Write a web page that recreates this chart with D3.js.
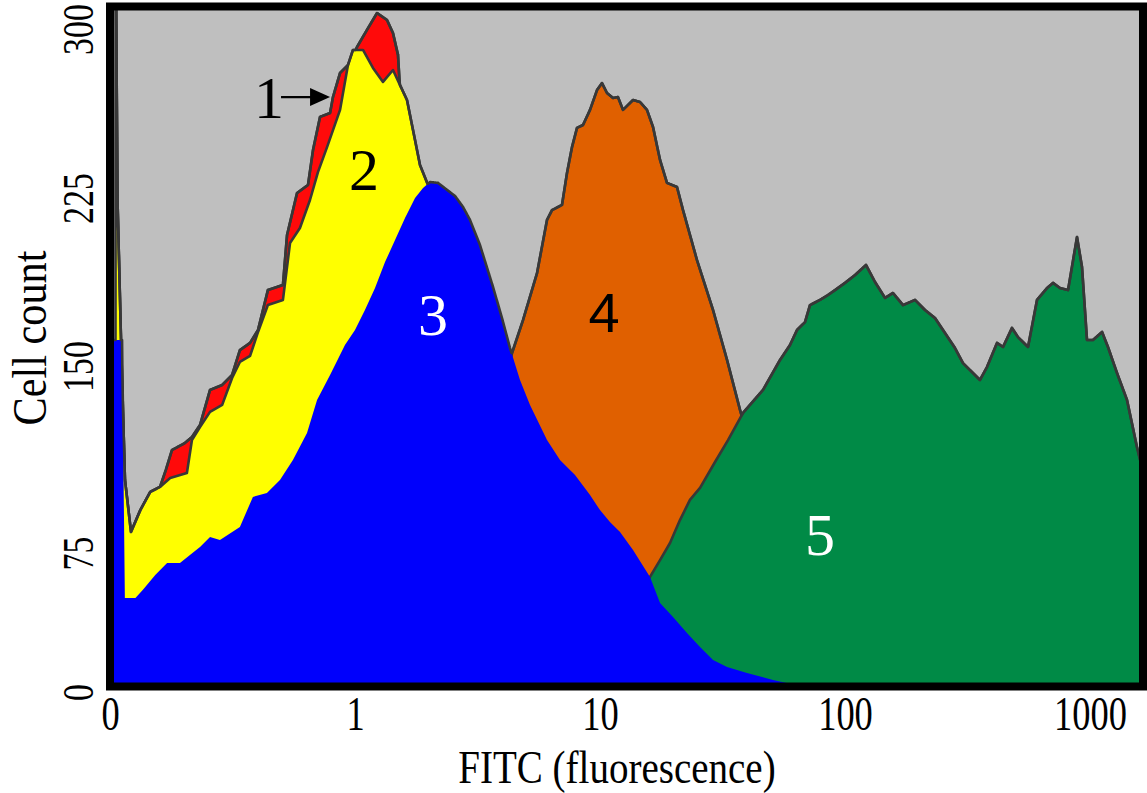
<!DOCTYPE html>
<html>
<head>
<meta charset="utf-8">
<script src="https://cdn.jsdelivr.net/npm/d3@7"></script>
<style>
  html, body { margin: 0; padding: 0; background: #ffffff; }
  svg { display: block; }
</style>
</head>
<body>
<svg id="chart" width="1147" height="793"></svg>
<script>
// Flow cytometry overlay: FITC fluorescence (log) vs cell count.
// Each series is a list of [FITC value, cell count] vertices along its outline.

const series1 = [ // red
  [0.1055, 340], [0.1073, 224.1], [0.1109, 161.6], [0.1151, 104.3], [0.1218, 83.4],
  [0.133, 92.2], [0.146, 99.5], [0.160, 101.5], [0.169, 108.3], [0.179, 116.3],
  [0.202, 119.1], [0.216, 121.5], [0.233, 126.3], [0.256, 140.4], [0.287, 142.4],
  [0.315, 146.4], [0.339, 157.1], [0.373, 160.3], [0.402, 166.1], [0.441, 183.9],
  [0.508, 186.2], [0.528, 208.5], [0.580, 227.2], [0.643, 230.8], [0.674, 246.3],
  [0.720, 261.0], [0.791, 262.7], [0.813, 269.8], [0.869, 280.5], [0.936, 284.0],
  [1.019, 292.0], [1.119, 299.6], [1.230, 307.1], [1.351, 304.0], [1.429, 298.2],
  [1.498, 288.5], [1.527, 272.9], [1.677, 250.7], [1.842, 233.0], [2.223, 201.8],
  [2.948, 157.1], [3.906, 116.3], [5.691, 60.4], [7.545, 17.3], [10.00, 0]
];

const series2 = [ // yellow
  [0.1055, 340], [0.1073, 224.1], [0.1109, 161.6], [0.1151, 104.3], [0.1218, 83.4],
  [0.133, 92.2], [0.146, 99.5], [0.160, 101.5], [0.176, 105.1], [0.206, 107.1],
  [0.216, 120.3], [0.233, 125.5], [0.256, 131.6], [0.287, 134.4], [0.315, 145.2],
  [0.339, 151.8], [0.373, 154.5], [0.402, 165.2], [0.441, 177.2], [0.508, 179.5],
  [0.543, 204.9], [0.596, 211.6], [0.655, 224.1], [0.706, 236.5], [0.769, 247.6],
  [0.869, 264.1], [0.936, 284.0], [0.981, 290.7], [1.078, 290.7], [1.184, 282.7],
  [1.301, 276.5], [1.429, 281.8], [1.527, 275.1], [1.630, 268.5], [1.725, 255.2],
  [1.842, 239.6], [1.986, 230.8], [2.223, 208.5], [2.683, 175.0], [3.237, 142.4],
  [3.906, 116.3], [4.715, 90.2], [5.691, 60.4], [6.866, 28.1], [8.287, 3.8], [10.00, 0]
];

const series3 = [ // blue
  [0.100, 161.6], [0.112, 161.6], [0.115, 50.7], [0.127, 50.7], [0.136, 55.0],
  [0.153, 63.1], [0.171, 69.6], [0.193, 69.6], [0.212, 73.9], [0.233, 77.4],
  [0.256, 81.4], [0.281, 80.2], [0.339, 85.4], [0.383, 97.5], [0.437, 99.1],
  [0.494, 104.3], [0.558, 112.3], [0.637, 123.1], [0.700, 136.4], [0.791, 146.4],
  [0.910, 159.4], [1.000, 166.1], [1.098, 175.0], [1.207, 184.8], [1.326, 196.4],
  [1.457, 206.2], [1.600, 216.1], [1.758, 225.0], [1.895, 229.4], [2.024, 232.1],
  [2.182, 231.7], [2.375, 228.6], [2.560, 225.9], [2.760, 221.0], [2.948, 215.2],
  [3.237, 204.0], [3.659, 185.3], [3.981, 171.4], [4.293, 158.0], [4.715, 144.4],
  [5.180, 134.4], [6.077, 120.3], [6.866, 112.3], [7.907, 106.3], [9.104, 98.3],
  [10.00, 92.2], [10.98, 87.4], [12.07, 83.4], [13.64, 76.2], [16.00, 62.1],
  [17.58, 48.0], [19.86, 40.5], [22.65, 31.8], [25.60, 24.3], [28.93, 17.3],
  [33.00, 13.5], [39.81, 10.3], [50.84, 6.5], [65.52, 3.2], [86.87, 0]
];

const series4 = [ // orange
  [2.442, 0], [3.237, 49.6], [3.906, 128.3], [4.374, 155.8], [4.850, 170.5],
  [5.534, 191.5], [6.077, 215.2], [6.369, 219.6], [6.996, 221.9], [7.333, 236.1],
  [7.687, 247.6], [8.056, 256.1], [8.523, 257.4], [9.104, 264.1], [9.723, 272.9],
  [10.19, 276.0], [10.68, 271.6], [11.30, 269.4], [11.84, 269.8], [12.41, 264.1],
  [13.64, 268.5], [14.57, 267.6], [15.55, 264.1], [16.46, 256.5], [17.58, 241.9],
  [18.77, 231.7], [20.62, 229.9], [21.82, 219.6], [24.88, 197.3], [28.93, 175.0],
  [33.00, 152.7], [37.28, 132.4], [44.99, 104.3], [59.64, 49.6], [79.07, 6.5], [95.41, 0]
];

const series5 = [ // green
  [10.00, 0], [13.26, 33.5], [16.00, 62.1], [17.58, 71.2], [19.31, 79.0],
  [21.20, 88.2], [23.29, 96.3], [25.60, 101.1], [29.48, 111.5], [33.31, 120.3],
  [38.35, 131.2], [46.27, 140.4], [54.29, 152.7], [59.64, 159.4], [63.70, 166.1],
  [68.66, 169.6], [71.95, 177.2], [79.07, 179.5], [85.23, 181.7], [91.04, 183.9],
  [100.0, 187.1], [109.9, 190.6], [121.8, 195.1], [132.6, 187.5], [145.7, 180.4],
  [157.0, 182.6], [172.5, 177.2], [193.1, 179.5], [212.1, 175.0], [233.0, 171.4],
  [256.0, 164.7], [281.2, 158.0], [303.1, 151.3], [355.6, 144.4], [379.8, 149.6],
  [417.3, 160.3], [441.5, 158.5], [480.4, 167.0], [508.3, 162.9], [558.5, 158.5],
  [607.7, 179.5], [667.6, 184.8], [706.3, 187.1], [754.4, 184.8], [813.5, 183.9],
  [885.1, 207.6], [927.7, 194.2], [972.3, 161.6], [1028, 161.6], [1120, 165.2],
  [1184, 158.5], [1289, 147.2], [1416, 136.4], [1555, 117.5], [1677, 104.3]
];

const xTicks = [0.1, 1, 10, 100, 1000];
const xTickLabels = ["0", "1", "10", "100", "1000"];
const yTicks = [0, 75, 150, 225, 300];

// population numbers: [label, FITC, count, colour, font]
const popLabels = [
  ["1", 0.446, 260.5, "#000000", "serif"],
  ["2", 1.088, 228.6, "#000000", "serif"],
  ["3", 2.081, 163.8, "#ffffff", "serif"],
  ["4", 10.38, 165.2, "#000000", "sans"],
  ["5", 79.07, 73.9, "#ffffff", "serif"]
];
// arrow from label 1 to the red population: [FITC start, FITC end, count]
const arrowPath = [0.499, 0.791, 269.8];

const serif = "'Liberation Serif', 'Times New Roman', Times, serif";
const sans = "'Liberation Sans', Arial, Helvetica, sans-serif";

const svg = d3.select("#chart");

// plot frame (inner area)
const inner = { left: 114, top: 10, right: 1139, bottom: 683 };

const x = d3.scaleLog().domain([0.1, 1000]).range([110, 1090]);
const y = d3.scaleLinear().domain(yTicks).range([692, 553, 366, 198, 29]);

svg.append("defs").append("clipPath").attr("id", "plotClip")
  .append("rect")
  .attr("x", inner.left).attr("y", inner.top)
  .attr("width", inner.right - inner.left).attr("height", inner.bottom - inner.top);

const plot = svg.append("g").attr("clip-path", "url(#plotClip)");

plot.append("rect")
  .attr("x", inner.left).attr("y", inner.top)
  .attr("width", inner.right - inner.left).attr("height", inner.bottom - inner.top)
  .attr("fill", "#bfbfbf");

const area = d3.area()
  .x(d => x(d[0]))
  .y0(y(0))
  .y1(d => y(d[1]));
const line = d3.line()
  .x(d => x(d[0]))
  .y(d => y(d[1]));

const outlineColor = "#383838";
const outlineWidth = 2.6;

// stacking order, back to front
const layers = [
  { data: series1, fill: "#ff0a0a", outline: true },
  { data: series2, fill: "#ffff00", outline: true },
  { data: series4, fill: "#e06000", outline: true },
  { data: series5, fill: "#008a46", outline: true },
  { data: series3, fill: "#0000fc", outline: false }
];

layers.forEach(l => {
  plot.append("path").datum(l.data)
    .attr("d", area)
    .attr("fill", l.fill);
  if (l.outline) {
    plot.append("path").datum(l.data)
      .attr("d", line)
      .attr("fill", "none")
      .attr("stroke", outlineColor)
      .attr("stroke-width", outlineWidth)
      .attr("stroke-linejoin", "round");
  }
});

// upper envelope of all populations, outlined against the background
const allSeries = [series1, series2, series3, series4, series5];
const pxSeries = allSeries.map(s => s.map(d => [x(d[0]), y(d[1])]));
const bis = d3.bisector(d => d[0]).right;
function pyAt(pts, px) {
  if (px < pts[0][0] || px > pts[pts.length - 1][0]) return y(0);
  const i = bis(pts, px);
  if (i <= 0) return pts[0][1];
  if (i >= pts.length) return pts[pts.length - 1][1];
  const a = pts[i - 1], b = pts[i];
  const t = (px - a[0]) / (b[0] - a[0] || 1);
  return a[1] + t * (b[1] - a[1]);
}
const samplePx = Array.from(new Set(
  d3.range(inner.left - 4, inner.right + 4, 0.5)
    .concat(pxSeries.flat().map(p => p[0]))
)).sort((a, b) => a - b);
const envelope = samplePx.map(px => [px, d3.min(pxSeries, pts => pyAt(pts, px))]);
plot.append("path")
  .attr("d", d3.line()(envelope))
  .attr("fill", "none")
  .attr("stroke", outlineColor)
  .attr("stroke-width", outlineWidth)
  .attr("stroke-linejoin", "round");

// population numbers
popLabels.forEach(([t, fx, cy, col, face]) => {
  svg.append("text")
    .attr("x", x(fx)).attr("y", y(cy))
    .attr("text-anchor", "middle")
    .attr("font-family", face === "sans" ? sans : serif)
    .attr("font-size", face === "sans" ? 56 : 60)
    .attr("fill", col)
    .text(t);
});

// arrow 1 -> red population
const ax0 = x(arrowPath[0]), ax1 = x(arrowPath[1]), ay = y(arrowPath[2]);
svg.append("line")
  .attr("x1", ax0).attr("y1", ay).attr("x2", ax1 - 16).attr("y2", ay)
  .attr("stroke", "#000").attr("stroke-width", 2.2);
svg.append("path")
  .attr("d", `M${ax1},${ay} L${ax1 - 20},${ay - 9} L${ax1 - 20},${ay + 9} Z`)
  .attr("fill", "#000");

// frame
svg.append("rect")
  .attr("x", 110).attr("y", 6.5)
  .attr("width", 1033).attr("height", 680)
  .attr("fill", "none")
  .attr("stroke", "#000")
  .attr("stroke-width", 8);

// x axis
const xAxis = svg.append("g")
  .attr("transform", "translate(0,694)")
  .call(d3.axisBottom(x).tickValues(xTicks)
    .tickFormat((d, i) => xTickLabels[i]).tickSize(0).tickPadding(0));
xAxis.select(".domain").remove();
xAxis.selectAll("text")
  .attr("y", 0).attr("dy", null)
  .attr("transform", "translate(0,36) scale(0.76,1)")
  .attr("font-family", serif)
  .attr("font-size", 48)
  .attr("fill", "#000");

// y axis
const yAxis = svg.append("g")
  .attr("transform", "translate(93,0)")
  .call(d3.axisLeft(y).tickValues(yTicks).tickSize(0).tickPadding(0));
yAxis.select(".domain").remove();
yAxis.selectAll("text")
  .attr("x", null).attr("dy", null)
  .attr("text-anchor", "middle")
  .attr("transform", "rotate(-90) scale(0.77,1)")
  .attr("font-family", serif)
  .attr("font-size", 44)
  .attr("fill", "#000");

// axis titles
svg.append("text")
  .attr("transform", "translate(617,783) scale(0.83,1)")
  .attr("text-anchor", "middle")
  .attr("font-family", serif)
  .attr("font-size", 47)
  .attr("fill", "#000")
  .text("FITC (fluorescence)");

svg.append("text")
  .attr("transform", "translate(46,338) rotate(-90) scale(0.88,1)")
  .attr("text-anchor", "middle")
  .attr("font-family", serif)
  .attr("font-size", 48)
  .attr("fill", "#000")
  .text("Cell count");
</script>
</body>
</html>
